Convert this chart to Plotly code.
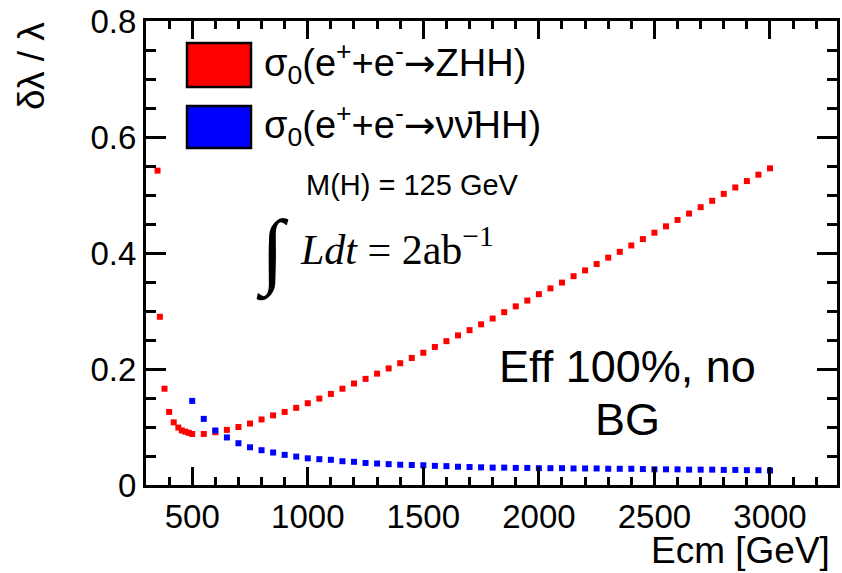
import plotly.graph_objects as go

# ---- data ----
zhh_ecm = [350, 360, 380, 400, 420, 440, 455, 470, 485, 500,
           550, 600, 650, 700, 750, 800, 850, 900, 950, 1000,
           1050, 1100, 1150, 1200, 1250, 1300, 1350, 1400, 1450, 1500,
           1550, 1600, 1650, 1700, 1750, 1800, 1850, 1900, 1950, 2000,
           2050, 2100, 2150, 2200, 2250, 2300, 2350, 2400, 2450, 2500,
           2550, 2600, 2650, 2700, 2750, 2800, 2850, 2900, 2950, 3000]
zhh_dl = [0.542, 0.290, 0.166, 0.126, 0.108, 0.099, 0.094, 0.092, 0.090, 0.088,
          0.088, 0.091, 0.095, 0.100, 0.106, 0.113, 0.120, 0.126, 0.133, 0.141,
          0.149, 0.157, 0.166, 0.175, 0.183, 0.192, 0.201, 0.210, 0.219, 0.228,
          0.238, 0.248, 0.258, 0.267, 0.277, 0.287, 0.298, 0.308, 0.318, 0.329,
          0.339, 0.349, 0.360, 0.370, 0.381, 0.392, 0.402, 0.413, 0.424, 0.435,
          0.446, 0.457, 0.468, 0.479, 0.490, 0.502, 0.513, 0.524, 0.535, 0.546]

nnhh_ecm = [500, 550, 600, 650, 700, 750, 800, 850, 900, 950,
            1000, 1050, 1100, 1150, 1200, 1250, 1300, 1350, 1400, 1450,
            1500, 1550, 1600, 1650, 1700, 1750, 1800, 1850, 1900, 1950,
            2000, 2050, 2100, 2150, 2200, 2250, 2300, 2350, 2400, 2450,
            2500, 2550, 2600, 2650, 2700, 2750, 2800, 2850, 2900, 2950, 3000]
nnhh_dl = [0.145, 0.114, 0.094, 0.082, 0.072, 0.065, 0.060, 0.056, 0.052, 0.049,
           0.046, 0.0445, 0.0435, 0.041, 0.040, 0.038, 0.037, 0.036, 0.035, 0.0345,
           0.034, 0.033, 0.0325, 0.0315, 0.031, 0.0305, 0.030, 0.030, 0.0295, 0.0295,
           0.029, 0.029, 0.029, 0.0285, 0.0285, 0.0285, 0.028, 0.028, 0.028, 0.0275,
           0.027, 0.027, 0.027, 0.0265, 0.0265, 0.0265, 0.026, 0.026, 0.0255, 0.0255, 0.025]

x_tickvals = [500, 1000, 1500, 2000, 2500, 3000]
y_tickvals = [0, 0.2, 0.4, 0.6, 0.8]
y_ticktext = ["0", "0.2", "0.4", "0.6", "0.8"]

ARROW = "<span style='font-family:DejaVu Sans'>→</span>"
legend_labels = ["σ<sub>0</sub>(e<sup>+</sup>+e<sup>-</sup>" + ARROW + "ZHH)",
                 "σ<sub>0</sub>(e<sup>+</sup>+e<sup>-</sup>" + ARROW + "νν̄HH)"]
colors = ["#ff0000", "#0000ff"]

# ---- layout geometry ----
W, H = 842, 573
L, R, T, B = 146, 5, 21, 88
PW, PH = W - L - R, H - T - B

def px(x):
    return (x - L) / PW

def py(y):
    return (H - B - y) / PH

SANS = "Liberation Sans, Arial, Helvetica, sans-serif"
SERIF = "Liberation Serif, Times New Roman, serif"

fig = go.Figure()
fig.add_trace(go.Scatter(x=zhh_ecm, y=zhh_dl, mode="markers",
                         marker=dict(symbol="square", size=6, color=colors[0]),
                         showlegend=False, hoverinfo="x+y"))
fig.add_trace(go.Scatter(x=nnhh_ecm, y=nnhh_dl, mode="markers",
                         marker=dict(symbol="square", size=6, color=colors[1]),
                         showlegend=False, hoverinfo="x+y"))

axis_common = dict(showline=True, linecolor="black", linewidth=3, mirror="allticks",
                   ticks="inside", tickcolor="black", tickwidth=3,
                   showgrid=False, zeroline=False,
                   tickfont=dict(family=SANS, size=33, color="black"))

fig.update_xaxes(range=[300, 3290], tickvals=x_tickvals, ticklen=18,
                 minor=dict(dtick=100, tick0=0, ticks="inside", ticklen=8,
                            tickwidth=3, tickcolor="black", showgrid=False),
                 **axis_common)
fig.update_yaxes(range=[0, 0.8], tickvals=y_tickvals, ticktext=y_ticktext, ticklen=20,
                 minor=dict(dtick=0.05, tick0=0, ticks="inside", ticklen=10,
                            tickwidth=3, tickcolor="black", showgrid=False),
                 **axis_common)

shapes = []
annotations = []
box_y = [(43, 87), (106, 148)]
for (y0, y1), c, lab in zip(box_y, colors, legend_labels):
    shapes.append(dict(type="rect", xref="paper", yref="paper",
                       x0=px(187), x1=px(251), y0=py(y1), y1=py(y0),
                       fillcolor=c, line=dict(color="black", width=2.5), layer="above"))
    annotations.append(dict(xref="paper", yref="paper", x=px(262), y=py((y0 + y1) / 2 - 2),
                            xanchor="left", yanchor="middle", showarrow=False,
                            text=lab, font=dict(family=SANS, size=38, color="black")))

annotations += [
    dict(xref="paper", yref="paper", x=px(412), y=py(185), xanchor="center", yanchor="middle",
         showarrow=False, text="M(H) = 125 GeV", font=dict(family=SANS, size=29, color="black")),
    dict(xref="paper", yref="paper", x=px(272), y=py(252), xanchor="center", yanchor="middle",
         showarrow=False, text="∫", font=dict(family=SERIF, size=84, color="black")),
    dict(xref="paper", yref="paper", x=px(298), y=py(247), xanchor="left", yanchor="middle",
         showarrow=False, text="<i>Ldt</i> = 2ab<sup>−1</sup>",
         font=dict(family=SERIF, size=42, color="black")),
    dict(xref="paper", yref="paper", x=px(627), y=py(366), xanchor="center", yanchor="middle",
         showarrow=False, text="Eff 100%, no", font=dict(family=SANS, size=45, color="black")),
    dict(xref="paper", yref="paper", x=px(627), y=py(419), xanchor="center", yanchor="middle",
         showarrow=False, text="BG", font=dict(family=SANS, size=45, color="black")),
    dict(xref="paper", yref="paper", x=px(832), y=py(550), xanchor="right", yanchor="middle",
         showarrow=False, text="Ecm [GeV]", font=dict(family=SANS, size=37, color="black")),
    dict(xref="paper", yref="paper", x=px(32), y=py(20), xanchor="center", yanchor="top",
         textangle=-90, showarrow=False, text="δλ / λ",
         font=dict(family=SANS, size=37, color="black")),
]

fig.update_layout(width=W, height=H, margin=dict(l=L, r=R, t=T, b=B, autoexpand=False),
                  paper_bgcolor="white", plot_bgcolor="white",
                  shapes=shapes, annotations=annotations, showlegend=False)

fig.write_html("out.html", config={"displayModeBar": False},
               post_script="document.body.style.margin='0px';")
